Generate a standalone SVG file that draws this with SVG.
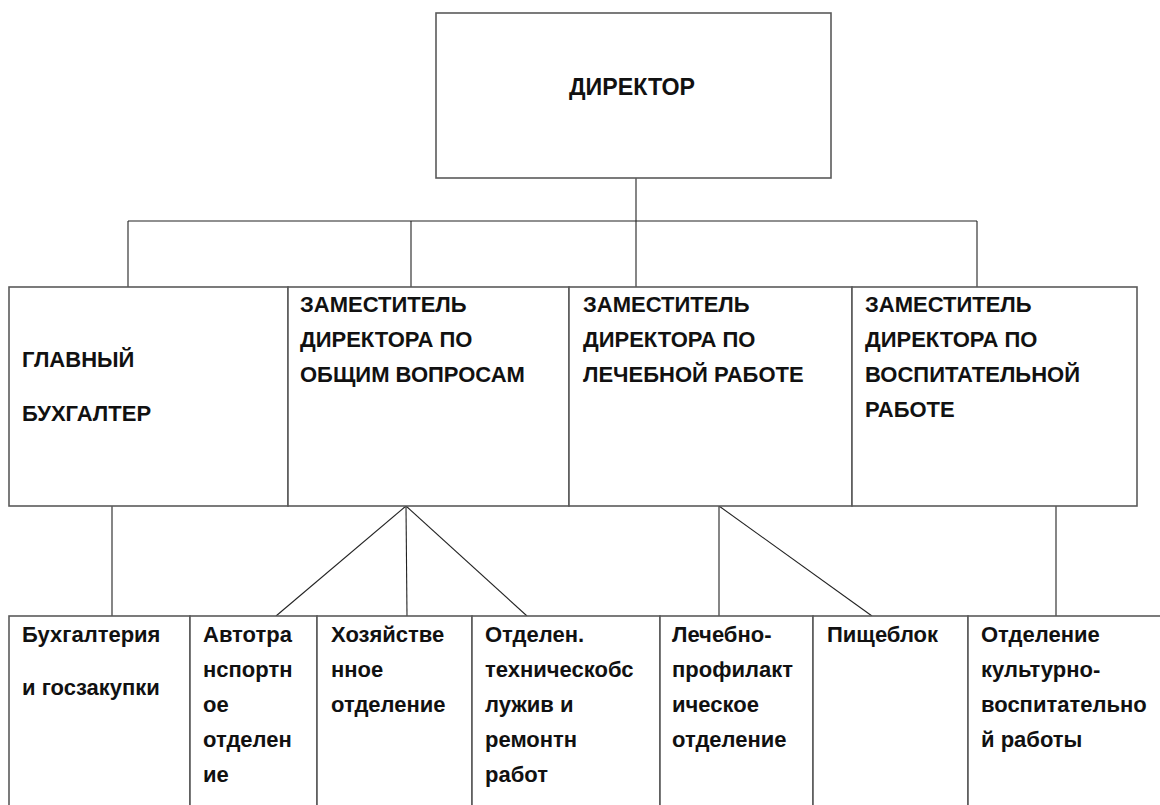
<svg xmlns="http://www.w3.org/2000/svg" width="1160" height="805" viewBox="0 0 1160 805">
<style>
.box{fill:#fff;stroke:#5a5a5a;stroke-width:1.6}
.ln{stroke:#222;stroke-width:1.1;fill:none}
text{font-family:"Liberation Sans",Arial,sans-serif;font-weight:bold;fill:#111}
.h{font-size:22px}
.s{font-size:22px}
.d{font-size:24px}
</style>
<rect width="1160" height="805" fill="#fff"/>
<g id="connectors">
<line class="ln" x1="636" y1="178" x2="636" y2="287"/>
<line class="ln" x1="128" y1="221" x2="977" y2="221"/>
<line class="ln" x1="128" y1="221" x2="128" y2="287"/>
<line class="ln" x1="411" y1="221" x2="411" y2="287"/>
<line class="ln" x1="977" y1="221" x2="977" y2="287"/>
<line class="ln" x1="112" y1="506" x2="112" y2="616"/>
<line class="ln" x1="406" y1="506" x2="276" y2="616"/>
<line class="ln" x1="406" y1="506" x2="407" y2="616"/>
<line class="ln" x1="406" y1="506" x2="527" y2="616"/>
<line class="ln" x1="719" y1="506" x2="719" y2="616"/>
<line class="ln" x1="719" y1="506" x2="872" y2="616"/>
<line class="ln" x1="1056" y1="506" x2="1056" y2="616"/>
</g>
<g id="director">
<rect class="box" x="436" y="13" width="395" height="165"/>
<text class="d" x="569" y="95" textLength="126" lengthAdjust="spacingAndGlyphs">ДИРЕКТОР</text>
</g>
<g id="glavbuh">
<rect class="box" x="9" y="287" width="279" height="219"/>
<text class="h" x="22" y="367">ГЛАВНЫЙ</text>
<text class="h" x="22" y="421">БУХГАЛТЕР</text>
</g>
<g id="zam-obshie">
<rect class="box" x="288" y="287" width="281" height="219"/>
<text class="h" x="300" y="312">ЗАМЕСТИТЕЛЬ</text>
<text class="h" x="300" y="347">ДИРЕКТОРА ПО</text>
<text class="h" x="300" y="382">ОБЩИМ ВОПРОСАМ</text>
</g>
<g id="zam-lech">
<rect class="box" x="569" y="287" width="283" height="219"/>
<text class="h" x="583" y="312">ЗАМЕСТИТЕЛЬ</text>
<text class="h" x="583" y="347">ДИРЕКТОРА ПО</text>
<text class="h" x="583" y="382">ЛЕЧЕБНОЙ РАБОТЕ</text>
</g>
<g id="zam-vosp">
<rect class="box" x="852" y="287" width="285" height="219"/>
<text class="h" x="865" y="312">ЗАМЕСТИТЕЛЬ</text>
<text class="h" x="865" y="347">ДИРЕКТОРА ПО</text>
<text class="h" x="865" y="382">ВОСПИТАТЕЛЬНОЙ</text>
<text class="h" x="865" y="417">РАБОТЕ</text>
</g>
<g id="buh">
<rect class="box" x="9" y="616" width="181" height="200"/>
<text class="s" x="22" y="642">Бухгалтерия</text>
<text class="s" x="22" y="695">и госзакупки</text>
</g>
<g id="avto">
<rect class="box" x="190" y="616" width="127" height="200"/>
<text class="s" x="203" y="642">Автотра</text>
<text class="s" x="203" y="677">нспортн</text>
<text class="s" x="203" y="712">ое</text>
<text class="s" x="203" y="747">отделен</text>
<text class="s" x="203" y="782">ие</text>
</g>
<g id="hoz">
<rect class="box" x="317" y="616" width="155" height="200"/>
<text class="s" x="331" y="642">Хозяйстве</text>
<text class="s" x="331" y="677">нное</text>
<text class="s" x="331" y="712">отделение</text>
</g>
<g id="tech">
<rect class="box" x="472" y="616" width="188" height="200"/>
<text class="s" x="485" y="642">Отделен.</text>
<text class="s" x="485" y="677">техническобс</text>
<text class="s" x="485" y="712">лужив и</text>
<text class="s" x="485" y="747">ремонтн</text>
<text class="s" x="485" y="782">работ</text>
</g>
<g id="lech">
<rect class="box" x="660" y="616" width="153" height="200"/>
<text class="s" x="672" y="642">Лечебно-</text>
<text class="s" x="672" y="677">профилакт</text>
<text class="s" x="672" y="712">ическое</text>
<text class="s" x="672" y="747">отделение</text>
</g>
<g id="pishe">
<rect class="box" x="813" y="616" width="155" height="200"/>
<text class="s" x="827" y="642">Пищеблок</text>
</g>
<g id="kult">
<rect class="box" x="968" y="616" width="210" height="200"/>
<text class="s" x="981" y="642">Отделение</text>
<text class="s" x="981" y="677">культурно-</text>
<text class="s" x="981" y="712">воспитательно</text>
<text class="s" x="981" y="747">й работы</text>
</g>
</svg>
